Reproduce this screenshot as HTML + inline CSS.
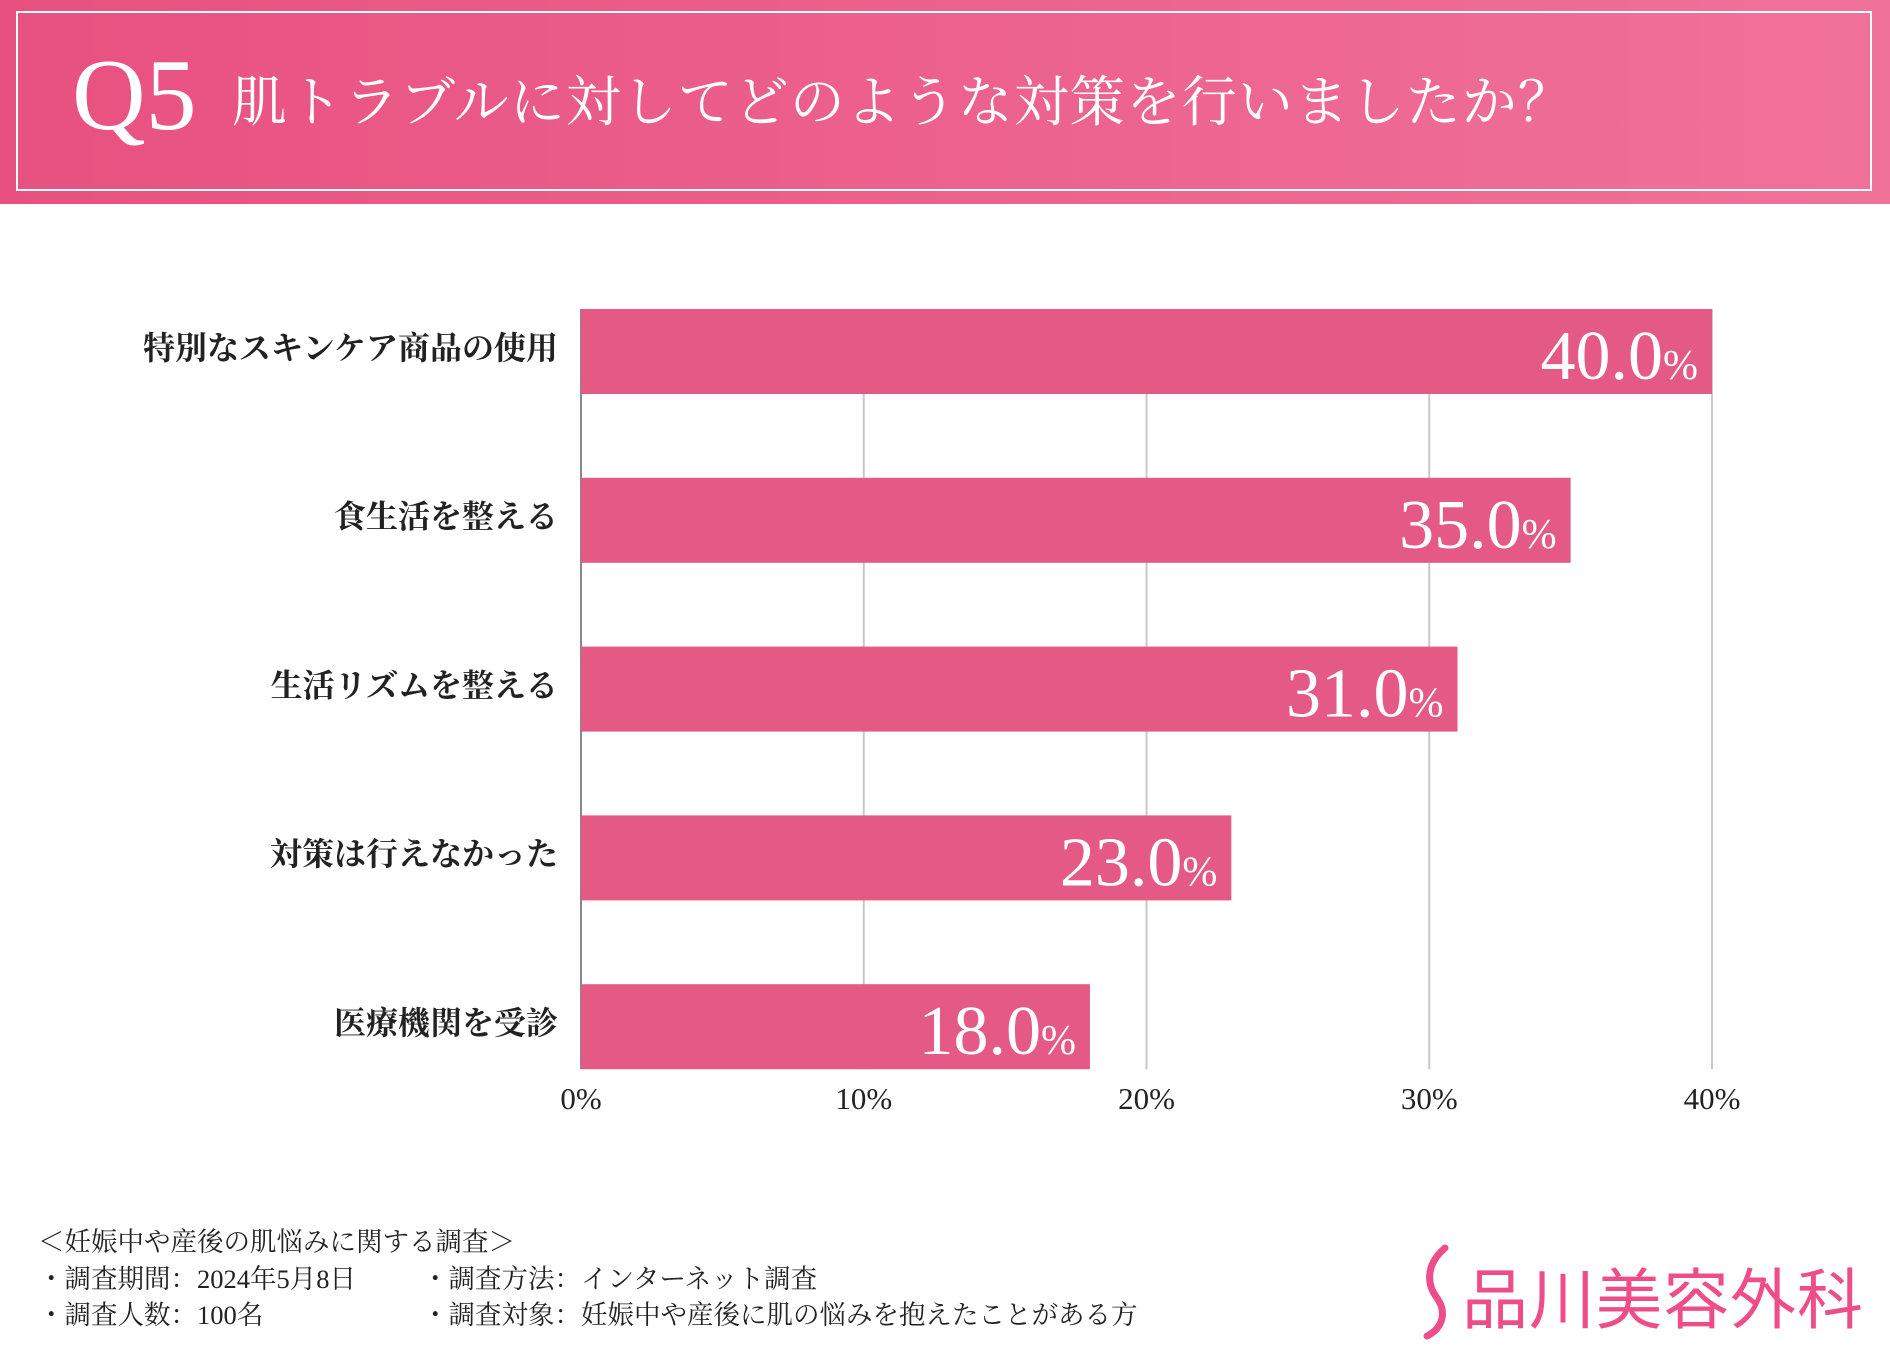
<!DOCTYPE html>
<html><head><meta charset="utf-8"><style>
html,body{margin:0;padding:0;background:#fff;}
body{width:1890px;height:1350px;position:relative;overflow:hidden;font-family:"Liberation Serif","Noto Serif CJK SC",serif;color:#222;}
.hdr{position:absolute;left:0;top:0;width:1890px;height:204px;background:linear-gradient(90deg,#e8517f,#f07299);}
.frame{position:absolute;left:16px;top:11px;width:1856px;height:180px;border:2px solid #fff;box-sizing:border-box;}
.q{position:absolute;left:72px;top:38px;font-size:102px;color:#fff;line-height:116px;}
.ttl{position:absolute;left:232px;top:66px;font-size:55px;color:#fff;line-height:74px;letter-spacing:1px;}
.foot{position:absolute;font-size:26.5px;line-height:30px;color:#222;}
.logo{position:absolute;left:1462px;top:1255px;font-size:66px;color:#ee4d8a;font-family:"Noto Sans CJK JP",sans-serif;line-height:80px;letter-spacing:1px;}
</style></head><body>
<div class="hdr"><div class="frame"></div>
<div class="q">Q5</div>
<div class="ttl">肌トラブルに対してどのような対策を行いましたか？</div></div>
<svg id="chart" width="1890" height="1350" style="position:absolute;left:0;top:0"></svg>
<div class="foot" style="left:38px;top:1227px">＜妊娠中や産後の肌悩みに関する調査＞</div>
<div class="foot" style="left:38px;top:1264px">・調査期間：2024年5月8日</div>
<div class="foot" style="left:38px;top:1300px">・調査人数：100名</div>
<div class="foot" style="left:422px;top:1264px">・調査方法：インターネット調査</div>
<div class="foot" style="left:422px;top:1300px">・調査対象：妊娠中や産後に肌の悩みを抱えたことがある方</div>
<svg style="position:absolute;left:1415px;top:1240px" width="50" height="100"><path d="M30 8 C10 25,12 45,22 58 C32 72,28 88,12 96" stroke="#ee4d8a" stroke-width="7" fill="none" stroke-linecap="round"/></svg>
<div class="logo">品川美容外科</div>
<script>
const categories=["特別なスキンケア商品の使用","食生活を整える","生活リズムを整える","対策は行えなかった","医療機関を受診"];
const values=[40.0,35.0,31.0,23.0,18.0];
const ticks=[0,10,20,30,40];
const ns="http://www.w3.org/2000/svg";
const svg=document.getElementById('chart');
const x0=581,x1=1712,vmax=40,top0=309,step=168.8,bh=85;
const xs=v=>x0+(x1-x0)*v/vmax;
const yb=i=>top0+i*step;
const bottom=yb(categories.length-1)+bh;
function mk(t,a){const e=document.createElementNS(ns,t);for(const k in a)e.setAttribute(k,a[k]);svg.appendChild(e);return e;}
ticks.forEach(t=>{
 if(t>0){const g=mk('line',{x1:xs(t),x2:xs(t),y1:top0,y2:bottom,stroke:'#c8c8c8','stroke-width':2});
 
 }
 const l=mk('text',{x:xs(t),y:1102,'text-anchor':'middle','font-size':31,fill:'#222','dominant-baseline':'middle'});
 l.textContent=t+'%';
 
 
});
const ax=mk('line',{x1:x0,x2:x0,y1:top0,y2:bottom,stroke:'#888','stroke-width':2});


categories.forEach((c,i)=>{
 const y=yb(i);
 const b=mk('rect',{x:x0,y:y,width:xs(values[i])-x0,height:bh,fill:'#e45a85'});
 
 
 const l=mk('text',{x:558,y:y+bh/2,'text-anchor':'end','font-size':32,fill:'#222','dominant-baseline':'middle','font-weight':'bold'});
 l.textContent=c;
 
 
 const v=mk('text',{x:xs(values[i])-14,y:y+70,'text-anchor':'end','font-size':70,fill:'#fff'});
 v.innerHTML=values[i].toFixed(1)+'<tspan font-size="42">%</tspan>';
 
 
});
</script>
</body></html>
